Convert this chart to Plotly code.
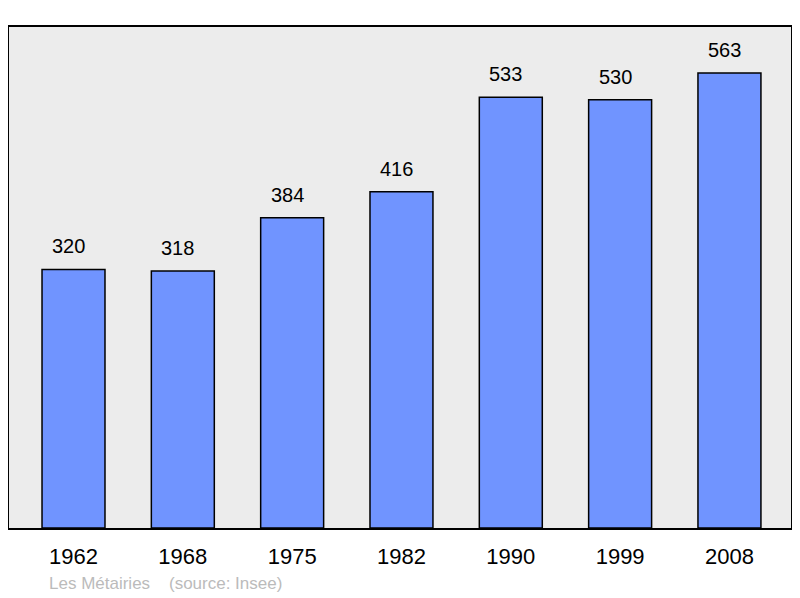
import plotly.graph_objects as go

years = ["1962", "1968", "1975", "1982", "1990", "1999", "2008"]
population = [320, 318, 384, 416, 533, 530, 563]
source_text = "Les Métairies    (source: Insee)"

pos = list(range(len(years)))

# the page body has an 8px margin, so the figure is drawn 8px smaller
fig = go.Figure()
fig.add_trace(go.Bar(
    x=pos,
    y=population,
    width=0.576,
    marker=dict(color="#7094ff", line=dict(color="black", width=1.5)),
    hoverinfo="x+y",
))

for p, v in zip(pos, population):
    fig.add_annotation(
        x=p, y=v, text=str(v), showarrow=False,
        yanchor="bottom", yshift=10, xshift=-5,
        font=dict(family="Liberation Sans", size=20, color="black"),
    )

plot_h = 528 - 27
fig.add_annotation(
    xref="paper", yref="paper",
    x=(47 - 9) / 782, y=-(583 - 528) / plot_h,
    xanchor="left", yanchor="middle",
    text=source_text, showarrow=False,
    font=dict(family="Liberation Sans", size=17, color="#bbbbbb"),
)

fig.update_xaxes(
    range=[-0.590, 6.563],
    tickvals=pos, ticktext=years,
    showgrid=False, zeroline=False,
    showline=True, mirror=True, linecolor="black", linewidth=2,
    ticks="outside", ticklen=8, tickcolor="rgba(0,0,0,0)",
    tickfont=dict(family="Liberation Sans", size=22, color="black"),
)
fig.update_yaxes(
    range=[0, 620],
    showticklabels=False, showgrid=False, zeroline=False,
    showline=True, mirror=True, linecolor="black", linewidth=2,
)
fig.update_layout(
    width=792, height=590,
    margin=dict(l=1, r=9, t=19, b=70),
    plot_bgcolor="#ececec",
    paper_bgcolor="white",
    showlegend=False,
)

fig.write_html("out.html")
